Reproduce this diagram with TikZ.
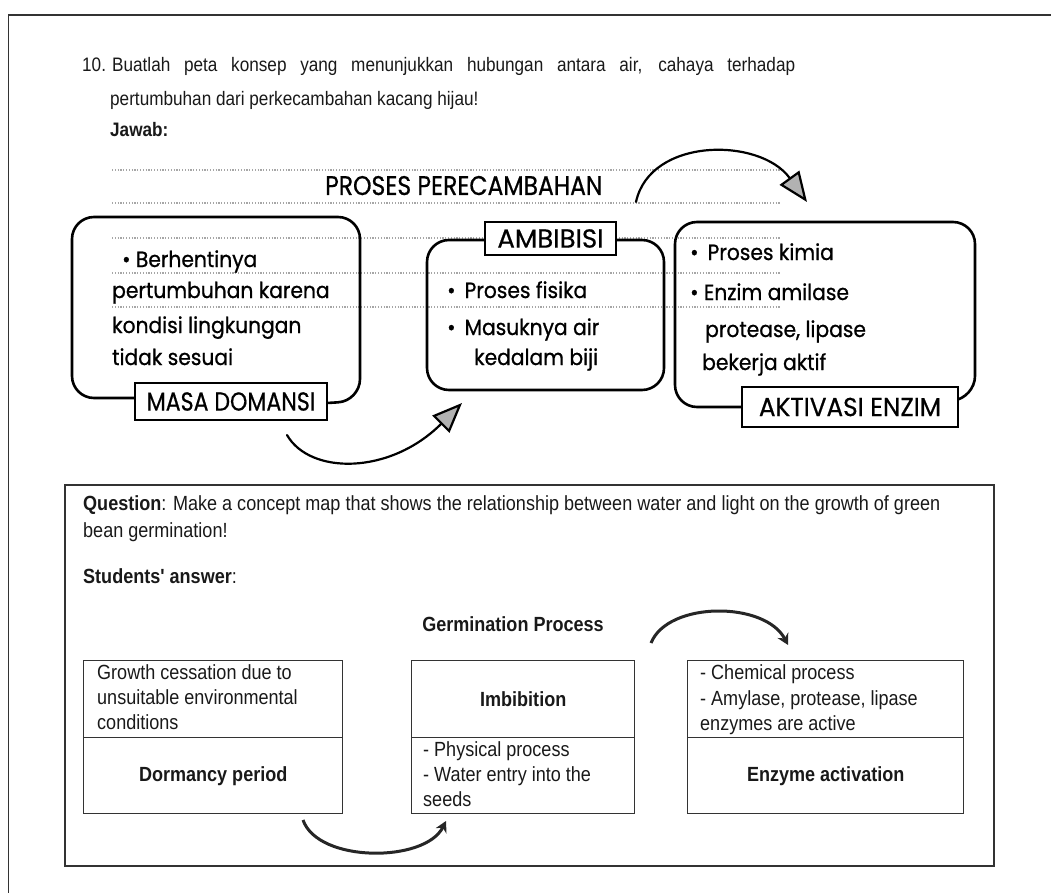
\documentclass[tikz,border=0pt]{standalone}
\usepackage{fontspec}
\setmainfont{Liberation Sans}
\newfontfamily\topfont[FakeStretch=0.88]{Liberation Sans}
\newfontfamily\tabfont[FakeStretch=0.88]{Liberation Sans}
\newfontfamily\handfont[FakeStretch=0.92, FakeBold=0.8]{Poppins}
\newfontfamily\titlefont[FakeStretch=0.87, FakeBold=0.6]{Poppins}
\newfontfamily\capsA[FakeStretch=0.85, FakeBold=0.6]{Poppins}
\newfontfamily\capsB[FakeStretch=0.95, FakeBold=0.6]{Poppins}
\newfontfamily\capsC[FakeStretch=1.0, FakeBold=0.6]{Poppins}
\usetikzlibrary{arrows.meta}
\tikzset{
  frameline/.style={draw=black!80, line width=1.6pt},
  handline/.style={draw=black, line width=2.6pt, line join=round, line cap=round, rounded corners=22pt},
  dotline/.style={draw=black!35, line width=1.3pt, dash pattern=on 1.2pt off 1.6pt},
  labbox/.style={draw=black, line width=2.4pt, fill=white, inner sep=0pt},
  cellbox/.style={draw=black!80, line width=1.4pt, inner sep=0pt, anchor=north west, font=\tabfont\bfseries\fontsize{20.5}{25}\selectfont, text=black!90},
  ttxt/.style={anchor=base west, inner sep=0pt, font=\tabfont\fontsize{20.5}{25}\selectfont, text=black!90},
  toptxt/.style={anchor=base west, inner sep=0pt, font=\topfont\fontsize{19.5}{22}\selectfont, text=black!90},
  htxt/.style={anchor=base west, inner sep=0pt, font=\handfont\fontsize{22}{22}\selectfont},
  harrow/.style={draw=black, line width=2.2pt, line cap=round, -{Triangle[length=30pt, width=24pt, line width=2.2pt, fill=black!30]}},
  tarrow/.style={draw=black!85, line width=3pt, -{Stealth[length=11pt, width=12pt]}}
}
\begin{document}
\begin{tikzpicture}[x=1pt, y=-1pt]
\useasboundingbox (0,0) rectangle (1051,893);
% outer frame (cropped)
\draw[frameline] (1051,15) -- (8.5,15) -- (8.5,893);

% printed question
\node[toptxt] (qn) at (82,72) {10.};
\node[toptxt] (q1) at (112,72) {\makebox[683pt][s]{Buatlah peta konsep yang menunjukkan hubungan antara air, cahaya terhadap}};
\node[toptxt] (q2) at (110,106) {pertumbuhan dari perkecambahan kacang hijau!};
\node[toptxt, font=\topfont\bfseries\fontsize{19.5}{22}\selectfont] (jw) at (110,137) {Jawab:};

% dotted writing lines
\foreach \yy in {170,203,238,273,307} {
  \draw[dotline] (112,\yy) -- (781,\yy);
}

% handwritten title
\node[anchor=base west, inner sep=0pt, font=\titlefont\fontsize{27}{27}\selectfont] (title) at (325,195) {PROSES PERECAMBAHAN};

% handwritten rounded boxes
\draw[handline] (135,398) -- (72,398) -- (72,217) -- (360,217) -- (360,401) -- (327,403);
\draw[handline] (485,240) -- (427,240) -- (427,390) -- (664,390) -- (664,240) -- (616,240);
\draw[handline] (742,407) -- (675,407) -- (675,222) -- (975,222) -- (975,398) -- (958,400);

% labels
\node[labbox, minimum width=192pt, minimum height=37pt, font=\capsA\fontsize{26}{26}\selectfont] (masa) at (231,401.5) {MASA DOMANSI};
\node[labbox, minimum width=131pt, minimum height=33pt, font=\capsC\fontsize{26}{26}\selectfont] (ambi) at (550.5,238.5) {AMBIBISI};
\node[labbox, minimum width=216pt, minimum height=40pt, font=\capsB\fontsize{26}{26}\selectfont] (akt) at (850,407) {AKTIVASI ENZIM};

% handwritten texts
\node[htxt] (h1) at (122,267) {• Berhentinya};
\node[htxt] (h2) at (112,298) {pertumbuhan karena};
\node[htxt] (h3) at (112,333) {kondisi lingkungan};
\node[htxt] (h4) at (112,365) {tidak sesuai};
\node[htxt] (h5) at (447,298) {•\, Proses fisika};
\node[htxt] (h6) at (447,335) {•\, Masuknya air};
\node[htxt] (h7) at (474,365) {kedalam biji};
\node[htxt] (h8) at (690,260) {•\, Proses kimia};
\node[htxt] (h9) at (690,300) {• Enzim amilase};
\node[htxt] (h10) at (705,337) {protease, lipase};
\node[htxt] (h11) at (702,370) {bekerja aktif};

% handwritten arrows
\coordinate (ta1) at (636,202);
\coordinate (ta2) at (807,202);
\draw[harrow] (ta1) .. controls (650,137) and (760,137) .. (ta2);
\coordinate (ba1) at (287,435);
\coordinate (ba2) at (462,403);
\draw[harrow] (ba1) .. controls (310,475) and (390,475) .. (ba2);

% ===== lower (translated) panel =====
\draw[frameline] (65,485) rectangle (994,866);
\node[ttxt] (tq1) at (83,510) {\textbf{Question}: Make a concept map that shows the relationship between water and light on the growth of green};
\node[ttxt] (tq2) at (83,537) {bean germination!};
\node[ttxt] (tsa) at (83,583) {\textbf{Students' answer}:};
\node[ttxt, anchor=base, font=\tabfont\bfseries\fontsize{20.5}{25}\selectfont] (gp) at (513,631) {Germination Process};

% cells
\node[cellbox, minimum width=259pt, minimum height=77pt] (lt) at (83,660) {};
\node[cellbox, minimum width=259pt, minimum height=76pt] (lb) at (83,737) {Dormancy period};
\node[cellbox, minimum width=223pt, minimum height=77pt] (mt) at (411,660) {Imbibition};
\node[cellbox, minimum width=223pt, minimum height=76pt] (mb) at (411,737) {};
\node[cellbox, minimum width=276pt, minimum height=77pt] (rt) at (687,660) {};
\node[cellbox, minimum width=276pt, minimum height=76pt] (rb) at (687,737) {Enzyme activation};

\node[ttxt] (l1) at (97,679) {Growth cessation due to};
\node[ttxt] (l2) at (97,704) {unsuitable environmental};
\node[ttxt] (l3) at (97,729) {conditions};
\node[ttxt] (m1) at (423,756) {- Physical process};
\node[ttxt] (m2) at (423,781) {- Water entry into the};
\node[ttxt] (m3) at (423,806) {seeds};
\node[ttxt] (r1) at (700,679) {- Chemical process};
\node[ttxt] (r2) at (700,705) {- Amylase, protease, lipase};
\node[ttxt] (r3) at (700,730) {enzymes are active};

% curved arrows
\coordinate (ua1) at (651,643);
\coordinate (ua2) at (788,645);
\draw[tarrow] (ua1) .. controls (668,601) and (765,601) .. (ua2);
\coordinate (la1) at (303,820);
\coordinate (la2) at (446,821);
\draw[tarrow] (la1) .. controls (318,863) and (425,863) .. (la2);
\end{tikzpicture}
\end{document}
